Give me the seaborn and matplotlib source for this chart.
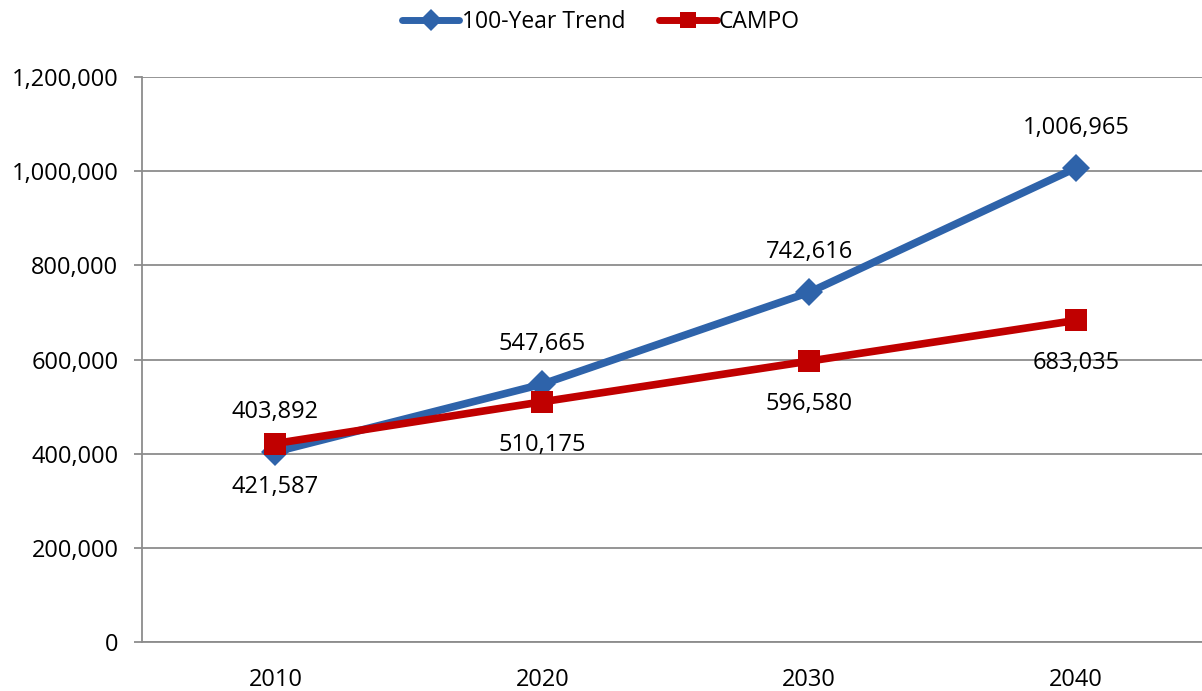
import matplotlib
matplotlib.use("Agg")
import matplotlib.pyplot as plt
import seaborn as sns
import pandas as pd
from matplotlib.ticker import FuncFormatter, MultipleLocator

years = ["2010", "2020", "2030", "2040"]
trend = [403892, 547665, 742616, 1006965]
campo = [421587, 510175, 596580, 683035]
series_names = ["100-Year Trend", "CAMPO"]
colors = ["#2E63AA", "#C00000"]

sns.set_theme(style="white")
plt.rcParams["font.family"] = ["Open Sans", "DejaVu Sans"]
plt.rcParams["text.color"] = "black"

df = pd.DataFrame({
    "Year": years * 2,
    "Value": trend + campo,
    "Series": [series_names[0]] * 4 + [series_names[1]] * 4,
})
df["x"] = df["Year"].map({y: i for i, y in enumerate(years)})

fig = plt.figure(figsize=(12.02, 6.91), dpi=100)
ax = fig.add_axes([142 / 1202, 1 - 642 / 691, (1209.5 - 142) / 1202, (642 - 77) / 691])

sns.lineplot(data=df, x="x", y="Value", hue="Series", style="Series",
             markers={series_names[0]: "D", series_names[1]: "s"},
             dashes=False, palette=dict(zip(series_names, colors)),
             linewidth=5.5, markersize=14, markeredgewidth=0,
             ax=ax, legend=True)

for line in ax.get_lines():
    if line.get_marker() == "D":
        line.set_markersize(14)
    elif line.get_marker() == "s":
        line.set_markersize(16)

fs = 17
ax.set_xlim(-0.5, 3.5)
ax.set_ylim(0, 1200000)
ax.yaxis.set_major_locator(MultipleLocator(200000))
ax.yaxis.set_major_formatter(FuncFormatter(lambda v, p: f"{int(v):,}"))
ax.set_xticks(range(len(years)))
ax.set_xticklabels(years)
ax.set_xlabel("")
ax.set_ylabel("")
ax.grid(axis="y", color="#8C8C8C", linewidth=1.3)
ax.set_axisbelow(True)
for s in ["top", "right"]:
    ax.spines[s].set_visible(False)
for s in ["left", "bottom"]:
    ax.spines[s].set_color("#8C8C8C")
    ax.spines[s].set_linewidth(1.3)
ax.tick_params(axis="y", length=6, width=1.3, color="#8C8C8C", labelsize=fs,
               labelcolor="black", pad=11, left=True)
ax.tick_params(axis="x", length=0, labelsize=fs, labelcolor="black", pad=19)

for i, v in enumerate(trend):
    ax.annotate(f"{v:,}", (i, v), xytext=(0, 29), textcoords="offset points",
                ha="center", va="center", fontsize=fs, color="black")
for i, v in enumerate(campo):
    ax.annotate(f"{v:,}", (i, v), xytext=(0, -31), textcoords="offset points",
                ha="center", va="center", fontsize=fs, color="black")

handles, labels = ax.get_legend_handles_labels()
for h in handles:
    h.set_markersize(11)
    h.set_linewidth(5)
ax.get_legend().remove()
fig.legend(handles, labels, loc="center", bbox_to_anchor=(0.5, 1 - 22 / 691),
           ncol=2, frameon=False, fontsize=16.5, handlelength=2.5,
           handletextpad=0.1, columnspacing=1.5)

fig.savefig("out.png", dpi=100)
